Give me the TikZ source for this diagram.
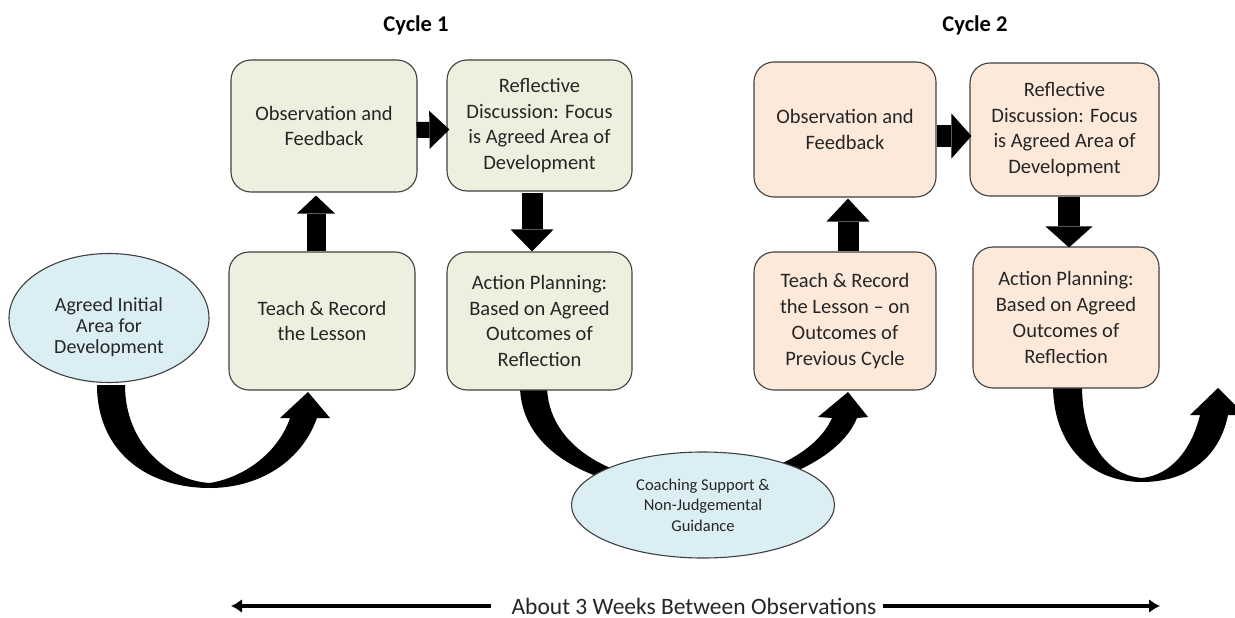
\documentclass[tikz,border=0pt]{standalone}
\usepackage{fontspec}
\setmainfont{Carlito}
\usetikzlibrary{arrows.meta,calc,shapes.geometric}
\definecolor{gfill}{HTML}{EBF1DE}
\definecolor{ofill}{HTML}{FDE9D9}
\definecolor{bfill}{HTML}{DAEEF3}
\definecolor{edgec}{HTML}{404040}
\definecolor{txtc}{HTML}{262626}
\begin{document}
\begin{tikzpicture}[x=1pt,y=-1pt,
  box/.style={draw=edgec,line width=1.1pt,rounded corners=20pt,align=center,text=txtc,
    font=\fontsize{20.5}{25.7}\selectfont,inner sep=0pt},
  gbox/.style={box,fill=gfill},
  obox/.style={box,fill=ofill},
  ell/.style={ellipse,draw=edgec,line width=1.1pt,fill=bfill,align=center,text=txtc,inner sep=0pt},
  blk/.style n args={3}{line width=#1,draw=black,-{Triangle[length=#3,width=#2,line width=0pt]}},
  curvearrow/.style={fill=black},
  timeline/.style={line width=3.5pt,-{Latex[length=11pt,width=14pt]}},
  title/.style={font=\bfseries\fontsize{22.5}{26}\selectfont}
]
\useasboundingbox[fill=white] (0,0) rectangle (1235,618);

% curved arrows (drawn first, boxes lie on top)
\fill[curvearrow] (97,385) .. controls (97,450) and (145,488) .. (210,488)
  .. controls (255,488) and (300,465) .. (317,418)
  -- (330,418) -- (308,392) -- (280,418) -- (290,418)
  .. controls (280,448) and (250,476) .. (210,483)
  .. controls (170,481) and (125,445) .. (125,385) -- cycle;
\fill[curvearrow] (520,385) .. controls (520,455) and (600,491) .. (690,492)
  .. controls (770,492) and (840,460) .. (857,418)
  -- (868,417) -- (848,392) -- (818,417) -- (832,418)
  .. controls (818,450) and (770,480) .. (690,484)
  .. controls (610,482) and (547,445) .. (547,385) -- cycle;
\fill[curvearrow] (1053,385) .. controls (1053,445) and (1090,482) .. (1142,482)
  .. controls (1190,482) and (1220,455) .. (1228,415)
  -- (1245,415) -- (1218,388) -- (1190,415) -- (1200,415)
  .. controls (1192,448) and (1172,475) .. (1142,478)
  .. controls (1105,475) and (1082,440) .. (1082,385) -- cycle;

% titles
\node[title] (c1) at (416,25) {Cycle 1};
\node[title] (c2) at (975,25) {Cycle 2};

% cycle 1
\node[gbox,minimum width=186pt,minimum height=132pt] (obs1) at (324,126) {Observation and\\Feedback};
\node[gbox,minimum width=185pt,minimum height=131pt] (refl1) at (539.5,125.5) {Reflective\\Discussion: Focus\\is Agreed Area of\\Development};
\node[gbox,minimum width=186pt,minimum height=138pt] (teach1) at (322,321) {Teach \& Record\\the Lesson};
\node[gbox,minimum width=185pt,minimum height=138pt] (act1) at (539.5,321) {Action Planning:\\Based on Agreed\\Outcomes of\\Reflection};

% cycle 2
\node[obox,minimum width=182pt,minimum height=135pt] (obs2) at (845,129.5) {Observation and\\Feedback};
\node[obox,minimum width=189pt,minimum height=133pt] (refl2) at (1064.5,129.5) {Reflective\\Discussion: Focus\\is Agreed Area of\\Development};
\node[obox,minimum width=182pt,minimum height=138pt] (teach2) at (845,321) {Teach \& Record\\the Lesson – on\\Outcomes of\\Previous Cycle};
\node[obox,minimum width=186pt,minimum height=141pt] (act2) at (1066,317.5) {Action Planning:\\Based on Agreed\\Outcomes of\\Reflection};

% ellipses
\node[ell,minimum width=200pt,minimum height=129pt] (ell1) at (109,318) {};
\node[align=center,text=txtc,inner sep=0pt,font=\fontsize{20}{21}\selectfont] (ell1t) at (109,327) {Agreed Initial\\Area for\\Development};
\node[ell,minimum width=263pt,minimum height=106pt,font=\fontsize{16.5}{20.5}\selectfont] (ell2) at (703,505) {Coaching Support \&\\Non-Judgemental\\Guidance};

% straight block arrows
\draw[blk={16pt}{38pt}{20pt}] ($(obs1.east)+(-1,4)$) -- ($(refl1.west)+(3,4)$);
\draw[blk={19pt}{38pt}{18pt}] ($(teach1.north)+(-6,0)$) -- ($(obs1.south)+(-8,3)$);
\draw[blk={21pt}{43pt}{22pt}] ($(refl1.south)+(-7.5,1)$) -- ($(act1.north)+(-7.5,0)$);
\draw[blk={22pt}{45pt}{20pt}] ($(obs2.east)+(0,6.5)$) -- ($(refl2.west)+(2,6.5)$);
\draw[blk={21pt}{43pt}{23pt}] ($(teach2.north)+(3,0)$) -- ($(obs2.south)+(3,1)$);
\draw[blk={22pt}{47pt}{21pt}] ($(refl2.south)+(4.5,0)$) -- ($(act2.north)+(3,1)$);

% timeline
\node[font=\fontsize{23.5}{28}\selectfont,text=txtc,inner sep=0pt] (dur) at (694,606) {About 3 Weeks Between Observations};
\coordinate (durL) at (231,606);
\coordinate (durR) at (1160,606);
\draw[timeline] ([xshift=-20pt]dur.west) -- (durL);
\draw[timeline] ([xshift=6pt]dur.east) -- (durR);
\end{tikzpicture}
\end{document}
